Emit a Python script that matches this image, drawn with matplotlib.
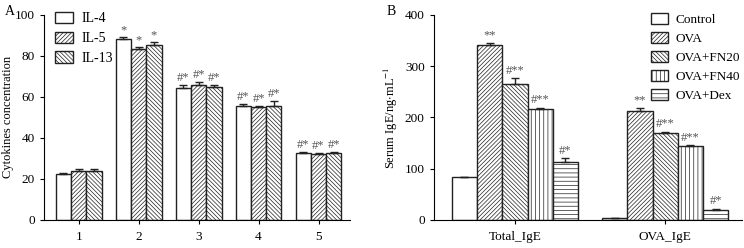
import numpy as np
import matplotlib
matplotlib.use("Agg")
import matplotlib.pyplot as plt

plt.rcParams['font.family'] = ['Liberation Serif', 'DejaVu Serif']
plt.rcParams['mathtext.fontset'] = 'stix'
plt.rcParams['hatch.linewidth'] = 0.5
plt.rcParams['hatch.color'] = '#333333'

# panel A data
groups_a = ['1', '2', '3', '4', '5']
il_names = ['IL-4', 'IL-5', 'IL-13']
il4 = [22.3, 88.1, 64.2, 55.5, 32.5]
il5 = [23.9, 83.3, 65.8, 55.0, 32.0]
il13 = [23.7, 85.1, 64.7, 55.8, 32.8]
il4_err = [0.5, 1.0, 1.8, 1.2, 0.8]
il5_err = [0.9, 0.8, 1.5, 0.4, 0.5]
il13_err = [1.1, 1.5, 1.0, 2.2, 0.5]
il4_sig = ['', '*', '#*', '#*', '#*']
il5_sig = ['', '*', '#*', '#*', '#*']
il13_sig = ['', '*', '#*', '#*', '#*']

# panel B data
groups_b = ['Total_IgE', 'OVA_IgE']
trt_names = ['Control', 'OVA', 'OVA+FN20', 'OVA+FN40', 'OVA+Dex']
control = [83, 3]
ova = [342, 213]
fn20 = [266, 170]
fn40 = [217, 144]
dex = [113, 20]
control_err = [1, 1]
ova_err = [3, 5]
fn20_err = [10, 2]
fn40_err = [2, 2]
dex_err = [7, 2]
control_sig = ['', '']
ova_sig = ['**', '**']
fn20_sig = ['#**', '#**']
fn40_sig = ['#**', '#**']
dex_sig = ['#*', '#*']

fig = plt.figure(figsize=(7.44, 2.48), dpi=100)
axA = fig.add_axes([0.059, 0.113, 0.411, 0.827])
axB = fig.add_axes([0.583, 0.113, 0.414, 0.827])


def draw_bars(ax, xs, series, errs, sigs, names, hatches, width, sig_pad, fs):
    n = len(series)
    for i, (vals, err, sig, name, h) in enumerate(zip(series, errs, sigs, names, hatches)):
        pos = xs + (i - (n - 1) / 2) * width
        ax.bar(pos, vals, width, color='white', edgecolor='#222222', linewidth=1.0,
               hatch=h, label=name, zorder=2)
        ax.errorbar(pos, vals, yerr=[np.zeros(len(vals)), err], fmt='none',
                    ecolor='#222222', elinewidth=1.0, capsize=3, capthick=1.0, zorder=3)
        for p, v, e, s in zip(pos, vals, err, sig):
            if s:
                ax.text(p, v + e + sig_pad, s, ha='center', va='bottom',
                        fontsize=fs, color='#555555')


xa = np.arange(1, len(groups_a) + 1)
draw_bars(axA, xa, [il4, il5, il13], [il4_err, il5_err, il13_err],
          [il4_sig, il5_sig, il13_sig], il_names, ['', '////////', '\\\\\\\\\\\\\\\\'],
          0.255, 0.5, 9)
axA.set_xlim(0.42, 5.52)
axA.set_ylim(0, 100)
axA.set_yticks([0, 20, 40, 60, 80, 100])
axA.set_xticks(xa)
axA.set_xticklabels(groups_a)
axA.tick_params(axis='x', length=0, pad=5)
axA.set_ylabel('Cytokines concentration', fontsize=9)
axA.yaxis.set_label_coords(-0.098, 0.5)
axA.legend(loc='upper left', bbox_to_anchor=(0.036, 1.015), frameon=False, fontsize=10,
           handlelength=1.3, handleheight=0.9, labelspacing=0.45, handletextpad=0.6,
           borderpad=0, borderaxespad=0)

xb = np.arange(len(groups_b))
draw_bars(axB, xb, [control, ova, fn20, fn40, dex],
          [control_err, ova_err, fn20_err, fn40_err, dex_err],
          [control_sig, ova_sig, fn20_sig, fn40_sig, dex_sig], trt_names,
          ['', '////////', '\\\\\\\\\\\\\\\\', '||||', '----'], 0.168, 3, 9)
axB.set_xlim(-0.54, 1.51)
axB.set_ylim(0, 400)
axB.set_yticks([0, 100, 200, 300, 400])
axB.set_xticks(xb)
axB.set_xticklabels(groups_b)
axB.tick_params(axis='x', length=0, pad=5)
axB.set_ylabel('Serum IgE/ng$\\cdot$mL$^{-1}$', fontsize=9)
axB.yaxis.set_label_coords(-0.108, 0.5)
axB.legend(loc='upper left', bbox_to_anchor=(0.705, 1.01), frameon=False, fontsize=9.5,
           handlelength=1.3, handleheight=0.9, labelspacing=0.45, handletextpad=0.6,
           borderpad=0, borderaxespad=0)

for ax in (axA, axB):
    ax.spines['top'].set_visible(False)
    ax.spines['right'].set_visible(False)
    ax.tick_params(labelsize=9.5, direction='out', width=0.8, length=3)

fig.text(0.006, 0.952, 'A', fontsize=10, va='center')
fig.text(0.52, 0.952, 'B', fontsize=10, va='center')

fig.savefig('out.png', dpi=100)
